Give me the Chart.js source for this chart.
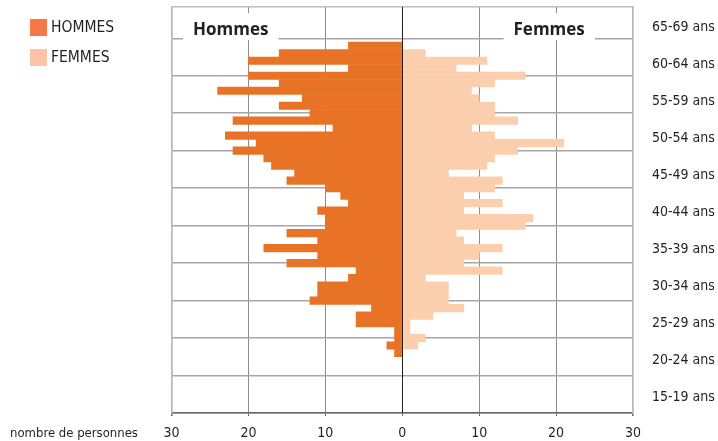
<!DOCTYPE html>
<html lang="fr">
<head>
<meta charset="utf-8">
<title>Pyramide des âges</title>
<script src="https://cdn.jsdelivr.net/npm/chart.js@4.4.1/dist/chart.umd.min.js"></script>
<style>
  html, body { margin: 0; padding: 0; background: #fff; }
</style>
</head>
<body>
<canvas id="pyramide" width="718" height="441"></canvas>
<script>
// Single year of age, oldest at the top
const ages = [64, 63, 62, 61, 60, 59, 58, 57, 56, 55, 54, 53, 52, 51, 50,
              49, 48, 47, 46, 45, 44, 43, 42, 41, 40, 39, 38, 37, 36, 35,
              34, 33, 32, 31, 30, 29, 28, 27, 26, 25, 24, 23];

// Number of people per age
const hommes = [7, 16, 20, 7, 20, 16, 24, 13, 16, 12, 22, 9, 23, 19, 22,
                18, 17, 14, 15, 10, 8, 7, 11, 10, 10, 15, 11, 18, 11, 15,
                6, 7, 11, 11, 12, 4, 6, 6, 1, 1, 2, 1];
const femmes = [0, 3, 11, 7, 16, 12, 9, 10, 12, 12, 15, 9, 12, 21, 15,
                12, 11, 6, 13, 12, 8, 13, 8, 17, 16, 7, 8, 13, 10, 8,
                13, 3, 6, 6, 6, 8, 4, 1, 1, 3, 2, 0];

// Age group labels on the right, bottom to top
const ageGroups = ['15-19 ans', '20-24 ans', '25-29 ans', '30-34 ans', '35-39 ans',
                   '40-44 ans', '45-49 ans', '50-54 ans', '55-59 ans', '60-64 ans', '65-69 ans'];

// Titles written in the top band and where they sit on the x axis
const sideLabels = ['Hommes', 'Femmes'];
const sideLabelPos = [-22.3, 19.1];

const xTitle = 'nombre de personnes';

const narrow = "'DejaVu Sans Condensed', 'DejaVu Sans', sans-serif";
const textColor = '#231f20';
const colorHommes = '#e87326';
const colorFemmes = '#fbcfae';

// The zero line sits on top of the bars
const zeroLine = {
    id: 'zeroLine',
    afterDatasetsDraw(chart) {
        const {ctx, chartArea, scales} = chart;
        const x = Math.round(scales.x.getPixelForValue(0)) + 0.5;
        ctx.save();
        ctx.strokeStyle = textColor;
        ctx.lineWidth = 1;
        ctx.beginPath();
        ctx.moveTo(x, chartArea.top);
        ctx.lineTo(x, chartArea.bottom);
        ctx.stroke();
        ctx.restore();
    }
};

// "Hommes" / "Femmes" on a white patch that hides the grid
const sideTitles = {
    id: 'sideTitles',
    afterDatasetsDraw(chart) {
        const {ctx, scales} = chart;
        const y = scales.y.getPixelForValue(66.1);
        ctx.save();
        ctx.font = "bold 17px 'Open Sans', sans-serif";
        ctx.textAlign = 'center';
        ctx.textBaseline = 'middle';
        sideLabels.forEach((txt, i) => {
            const x = scales.x.getPixelForValue(sideLabelPos[i]);
            const w = ctx.measureText(txt).width + 20;
            ctx.fillStyle = '#fff';
            ctx.fillRect(x - w / 2, y - 17, w, 27);
            ctx.fillStyle = textColor;
            ctx.fillText(txt, x, y);
        });
        ctx.restore();
    }
};

// Legend in the top left corner and the x axis caption
const sideLegend = {
    id: 'sideLegend',
    afterDraw(chart) {
        const {ctx, scales} = chart;
        const legendColors = ['#f47848', '#fbc4a6'];
        ctx.save();
        ctx.textBaseline = 'middle';
        ctx.textAlign = 'left';
        ctx.font = '15.5px ' + narrow;
        chart.data.datasets.forEach((ds, i) => {
            const top = 19 + i * 30;
            ctx.fillStyle = legendColors[i];
            ctx.fillRect(30, top, 17, 17);
            ctx.fillStyle = textColor;
            ctx.fillText(ds.label, 51, top + 9);
        });
        ctx.font = '13px ' + narrow;
        ctx.fillText(xTitle, 10, scales.x.bottom - 7);
        ctx.restore();
    }
};

function tickValue(c) {
    return c.tick ? c.tick.value : 0;
}

// Keep the plot area where the reference has it
function noPadding(scale) {
    scale.paddingTop = 0;
    scale.paddingBottom = 0;
    scale.paddingLeft = 0;
    scale.paddingRight = 0;
}

const ctx = document.getElementById('pyramide');

new Chart(ctx, {
    type: 'bar',
    data: {
        datasets: [{
            label: 'HOMMES',
            data: ages.map((a, i) => ({x: -hommes[i], y: a})),
            backgroundColor: colorHommes,
            borderWidth: 0,
            grouped: false,
            barPercentage: 1,
            categoryPercentage: 1
        },
        {
            label: 'FEMMES',
            data: ages.map((a, i) => ({x: femmes[i], y: a})),
            backgroundColor: colorFemmes,
            borderWidth: 0,
            grouped: false,
            barPercentage: 1,
            categoryPercentage: 1
        }]
    },
    options: {
        indexAxis: 'y',
        responsive: false,
        animation: false,
        layout: {
            padding: {top: 7, left: 0, right: 0, bottom: 0}
        },
        plugins: {
            legend: {display: false},
            tooltip: {enabled: false}
        },
        scales: {
            x: {
                type: 'linear',
                min: -30,
                max: 30,
                afterFit(scale) { scale.height = 28; noPadding(scale); },
                ticks: {
                    stepSize: 10,
                    padding: 9,
                    color: textColor,
                    font: {family: narrow, size: 14},
                    callback: v => Math.abs(v)
                },
                grid: {
                    tickLength: 3,
                    tickColor: '#666',
                    color: c => Math.abs(tickValue(c)) === 30 ? '#b8b8b8' : '#8c8c8c',
                    lineWidth: c => Math.abs(tickValue(c)) === 30 ? 1.5 : 1
                },
                border: {color: '#666', width: 1.5}
            },
            y: {
                type: 'linear',
                position: 'left',
                min: 15,
                max: 69.17,
                offset: false,
                afterFit(scale) { scale.width = 171.5; noPadding(scale); },
                ticks: {display: false, stepSize: 5},
                grid: {
                    offset: false,
                    drawTicks: false,
                    color: c => tickValue(c) > 66 ? '#bdbdbd' : '#a6a6a6',
                    lineWidth: 1.5
                },
                border: {color: '#b8b8b8', width: 1.5}
            },
            y2: {
                type: 'linear',
                position: 'right',
                min: -0.431,
                max: 10.561,
                offset: false,
                afterFit(scale) { scale.width = 85; noPadding(scale); },
                afterBuildTicks(scale) {
                    scale.ticks = ageGroups.map((g, i) => ({value: i}));
                },
                ticks: {
                    padding: 19,
                    color: textColor,
                    font: {family: narrow, size: 14},
                    callback: (v) => ageGroups[v]
                },
                grid: {display: false, drawTicks: false, offset: false},
                border: {color: '#b8b8b8', width: 1.5}
            }
        }
    },
    plugins: [zeroLine, sideTitles, sideLegend]
});
</script>
</body>
</html>
